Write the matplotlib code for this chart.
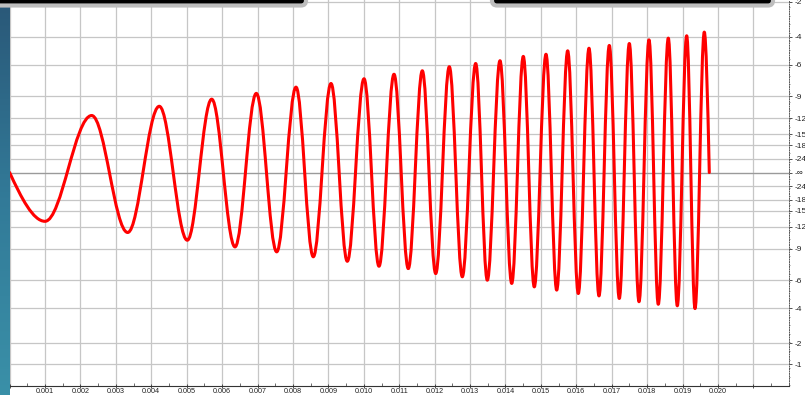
import numpy as np
import matplotlib
matplotlib.use("Agg")
import matplotlib.pyplot as plt
from matplotlib.path import Path
from matplotlib.patches import PathPatch, FancyBboxPatch
from matplotlib.colors import LinearSegmentedColormap

# extrema of the waveform (time in s, linear amplitude)
peak_t = [0.000999, 0.002318, 0.003334, 0.004226, 0.005017, 0.005706, 0.006364, 0.006965,
          0.007541, 0.008086, 0.008574, 0.009074, 0.009534, 0.010006, 0.010429, 0.010853,
          0.011256, 0.011652, 0.012030, 0.012414, 0.012781, 0.013159, 0.013487, 0.013845,
          0.014176, 0.014503, 0.014813, 0.015144, 0.015446, 0.015756, 0.016056, 0.016358,
          0.016640, 0.016931, 0.017213, 0.017496, 0.017770, 0.018052, 0.018314, 0.018597,
          0.018851, 0.019116, 0.019351, 0.019613]
peak_a = [-0.227, 0.265, -0.279, 0.308, -0.315, 0.341, -0.346, 0.368,
          -0.369, 0.397, -0.392, 0.414, -0.413, 0.436, -0.436, 0.457,
          -0.447, 0.473, -0.470, 0.492, -0.485, 0.507, -0.501, 0.520,
          -0.516, 0.540, -0.532, 0.550, -0.547, 0.566, -0.563, 0.578,
          -0.574, 0.591, -0.586, 0.600, -0.601, 0.617, -0.613, 0.625,
          -0.620, 0.636, -0.633, 0.653]
t_start, t_end = 0.0, 0.019754

# right-hand dB scale labels
db_top = [-2, -4, -6, -9, -12, -15, -18, -24]
db_bottom = [-24, -18, -15, -12, -9, -6, -4, -2, -1]

fig = plt.figure(figsize=(8.05, 3.95), dpi=100)
fig.patch.set_facecolor("white")

W, H = 805.0, 395.0
x0_px, x1_px = 9.6, 789.0
y_bot_px = 385.7
ax = fig.add_axes([x0_px / W, (H - y_bot_px) / H, (x1_px - x0_px) / W, y_bot_px / H])
ax.set_xlim(0, (x1_px - x0_px) / 35420.0)
ax.set_ylim(-(y_bot_px - 172.5) / 215.0, 172.5 / 215.0)

# waveform built as bezier path through the extrema
verts = [(t_start, 0.0)]
codes = [Path.MOVETO]
dt = peak_t[0] - t_start
verts += [(t_start + dt / 3, peak_a[0] * np.pi / 6), (peak_t[0] - dt / 3, peak_a[0]), (peak_t[0], peak_a[0])]
codes += [Path.CURVE4] * 3
k = 0.3634
for i in range(1, len(peak_t)):
    ta, aa = peak_t[i - 1], peak_a[i - 1]
    tb, ab = peak_t[i], peak_a[i]
    d = tb - ta
    verts += [(ta + k * d, aa), (tb - k * d, ab), (tb, ab)]
    codes += [Path.CURVE4] * 3
dt = t_end - peak_t[-1]
verts += [(peak_t[-1] + dt / 3, peak_a[-1]), (t_end - dt / 3, peak_a[-1] * np.pi / 6), (t_end, 0.0)]
codes += [Path.CURVE4] * 3
ax.add_patch(PathPatch(Path(verts, codes), fill=False, edgecolor="#ff0000", lw=2.2,
                       capstyle="round", joinstyle="round", zorder=3))

# x axis
xt = [i / 1000 for i in range(0, 22)]
ax.set_xticks(xt)
ax.set_xticklabels([f"{v:.3f}" if 0 < v < 0.0205 else "" for v in xt])
ax.set_xticks([i / 2000 for i in range(0, 45)], minor=True)
ax.tick_params(axis="x", which="major", direction="inout", length=3, width=0.6,
               color="#333333", pad=0.5, labelsize=5.2, labelcolor="#222222")
ax.tick_params(axis="x", which="minor", direction="in", length=2, width=0.5, color="#333333")
for lab in ax.get_xticklabels():
    lab.set_fontfamily("Liberation Sans")

# y axis on the right with dB labels
yt = [10 ** (d / 20) for d in db_top] + [0.0] + [-(10 ** (d / 20)) for d in db_bottom]
ylab = [str(d) for d in db_top] + ["-\u221e"] + [str(d) for d in db_bottom]
ax.yaxis.tick_right()
ax.set_yticks(yt)
ax.set_yticklabels(ylab)
ax.tick_params(axis="y", which="major", direction="out", length=2.5, width=0.6,
               color="#333333", pad=1.2, labelsize=6, labelcolor="#222222")
ax.set_yticks(np.arange(-0.99, 0.8, 0.04), minor=True)
ax.tick_params(axis="y", which="minor", direction="out", length=1, width=0.5, color="#666666")
for lab in ax.get_yticklabels():
    lab.set_fontfamily("Liberation Sans")

ax.grid(True, which="major", color="#c6c6c6", lw=0.9)
ax.axhline(0, color="#9a9a9a", lw=0.9, zorder=1)
ax.set_axisbelow(True)

for s in ["left", "top"]:
    ax.spines[s].set_visible(False)
ax.spines["bottom"].set_color("#333333")
ax.spines["bottom"].set_linewidth(0.8)
ax.spines["right"].set_color("#555555")
ax.spines["right"].set_linewidth(0.7)
ax.spines["right"].set_linestyle((0, (1, 1.5)))

# window decorations: left gradient strip and the dark toolbars on top
ov = fig.add_axes([0, 0, 1, 1], zorder=5)
ov.patch.set_alpha(0)
grad = np.linspace(0, 1, 200).reshape(-1, 1)
cm = LinearSegmentedColormap.from_list("strip", ["#2a5878", "#327a98", "#3a90a8"])
ov.imshow(grad, extent=[0, 9.6, H, 0], aspect="auto", cmap=cm)
ov.add_patch(FancyBboxPatch((-30, -12), 336, 17.5, boxstyle="round,pad=0,rounding_size=5",
                            fc="black", ec="#bdbdbd", lw=3))
ov.add_patch(FancyBboxPatch((492, -12), 281, 17.5, boxstyle="round,pad=0,rounding_size=5",
                            fc="black", ec="#bdbdbd", lw=3))
ov.set_xlim(0, W)
ov.set_ylim(H, 0)
ov.axis("off")

fig.savefig("out.png", dpi=100)
